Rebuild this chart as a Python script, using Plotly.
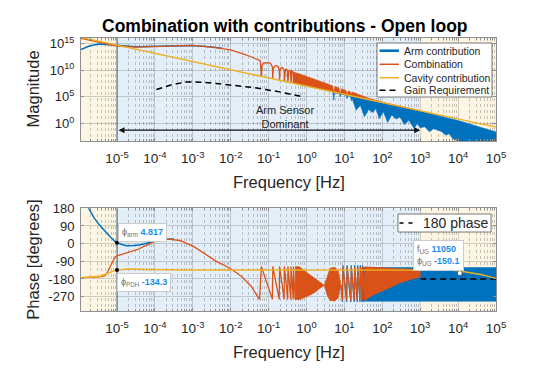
import plotly.graph_objects as go

# ---------------- data ----------------
# all frequencies / magnitudes kept as log10 values (decades)

# magnitude panel
cav_logf = [-6, -5, -4, -3, -2, -1, 0, 1, 2, 3, 4, 5]
cav_logmag = [16.25, 14.71, 13.17, 11.63, 10.09, 8.55, 7.01, 5.47, 3.93, 2.39, 0.85, -0.69]

arm_logf = [-5.95, -5.75, -5.49, -5.2, -5.0, -4.5, -4.0, -3.5, -3.0, -2.5, -2.2]
arm_logmag = [13.9, 14.5, 14.9, 14.85, 14.7, 14.4, 14.45, 14.6, 14.65, 14.35, 14.1]

# high frequency part of the arm contribution (dense band: upper edge then lower edge back)
arm_band_logf = [0.65, 1.0, 2.0, 3.0, 4.0, 4.5, 5.0,
                 5.0, 4.3, 4.0, 3.85, 3.77, 3.68, 3.56, 3.45, 3.35, 3.24, 3.12, 3.0, 2.92, 2.84,
                 2.7, 2.58, 2.47, 2.36, 2.25, 2.14, 2.03, 1.92, 1.83, 1.75, 1.64, 1.53, 1.42, 1.31,
                 1.2, 1.18, 1.16, 1.09, 1.07, 1.05, 0.91, 0.89, 0.87, 0.74, 0.72, 0.70, 0.65]
arm_band_logmag = [6.0, 5.4, 3.85, 2.3, 0.55, -0.5, -1.6,
                   -4.5, -4.5, -3.3, -2.81, -1.9, -2.2, -1.5, -1.26, -1.0, -1.58, -0.6, -0.83, 0.0, -0.94,
                   0.6, -0.19, 1.2, 0.81, 1.6, 0.19, 2.2, 0.94, 2.8, 2.06, 2.6, 1.24, 3.4, 2.5,
                   4.8, 4.2, 5.1, 5.2, 4.6, 5.3, 5.5, 5.0, 5.6, 5.8, 4.4, 5.9, 6.0]

comb_logf = [-5.95, -5.7, -5.5, -5.2, -5.0, -4.5, -4.0, -3.5, -3.0, -2.5, -2.0, -1.6, -1.3, -1.22, -1.19,
             -1.175, -1.13, -1.04, -0.95, -0.90, -0.89,
             -0.88, -0.845, -0.80, -0.75, -0.72, -0.71,
             -0.70, -0.675, -0.645, -0.61, -0.59, -0.585,
             -0.575, -0.555, -0.535, -0.505, -0.49,
             -0.48, -0.465, -0.445, -0.42, -0.41,
             -0.40, -0.385, -0.37, -0.35, -0.345]
comb_logmag = [16.0, 15.6, 15.3, 14.75, 14.55, 14.35, 14.45, 14.6, 14.65, 14.35, 13.8, 12.9, 11.95, 11.8, 8.84,
               10.9, 11.35, 11.44, 11.3, 10.6, 8.38,
               10.2, 10.75, 10.86, 10.7, 10.1, 8.10,
               9.9, 10.4, 10.49, 10.3, 9.9, 7.91,
               9.7, 10.15, 10.23, 10.0, 7.76,
               9.6, 9.95, 10.0, 9.8, 7.64,
               9.5, 9.8, 9.8, 9.6, 7.54]

# dense comb region of the combination (upper envelope, then back along the cavity line)
comb_band_logf = [-0.345, -0.33, -0.2, -0.1, 0.2, 0.5, 0.69, 0.72, 0.75, 0.86, 0.89, 0.92, 1.04, 1.07,
                  1.10, 1.16, 1.18, 1.20, 1.66, 2.1, 2.53, 3.0,
                  3.0, 2.0, 1.0, 0.0, -0.345]
comb_band_logmag = [7.54, 9.6, 9.35, 9.1, 8.4, 7.6, 7.1, 5.9, 7.0, 6.6, 5.63, 6.5, 6.2, 5.36,
                    6.1, 5.95, 5.19, 5.9, 4.7, 3.8, 3.1, 2.45,
                    2.39, 3.93, 5.47, 7.01, 7.54]

gain_logf = [-3.96, -3.6, -3.17, -2.8, -2.38, -1.9, -1.41, -0.71, -0.1]
gain_logmag = [6.38, 7.19, 7.8, 7.75, 7.5, 7.15, 6.75, 5.93, 5.03]

# phase panel (degrees)
arm_ph_logf = [-5.85, -5.76, -5.6, -5.45, -5.3, -5.18, -5.05, -5.0, -4.85, -4.74, -4.55, -4.39, -4.13, -3.96, -3.7, -3.5]
arm_ph = [215, 182, 130, 92, 58, 35, 10, 4.8, -6, -11, -10, -6, 6, 16, 22, 24]

arm_ph_teeth_logf = [0.91, 0.95, 0.96, 1.06, 1.07, 1.17, 1.18, 1.26, 1.27, 1.34, 1.35, 1.41, 1.42, 1.47, 1.48]
arm_ph_teeth = [-212, -297, -110, -297, -110, -297, -110, -297, -110, -297, -110, -297, -110, -297, -110]

arm_ph_band_logf = [1.45, 5.0, 5.0, 1.45]
arm_ph_band = [-122, -122, -293, -293]

comb_ph_logf = [-5.95, -5.6, -5.45, -5.32, -5.25, -5.18, -5.1, -5.05, -5.0, -4.74, -4.47, -4.2, -3.96, -3.65,
                -3.34, -2.98, -2.63, -2.38, -2.03, -1.72, -1.46, -1.24, -1.19, -0.90, -0.89, -0.72, -0.71,
                -0.59, -0.585, -0.495, -0.49, -0.415, -0.41, -0.35, -0.345, -0.30]
comb_ph = [-173, -171, -169, -163, -145, -116, -82, -68, -62, -48, -31, -6, 16, 23,
           16, -14, -56, -90, -124, -166, -217, -284, -116, -284, -116, -284, -116,
           -284, -116, -284, -116, -284, -116, -284, -116, -284]

lens1_logf = [-0.30, -0.18, -0.1, 0.03, 0.21, 0.35, 0.47, 0.35, 0.21, 0.03, -0.1, -0.18, -0.30]
lens1_ph = [-116, -118, -132, -152, -175, -195, -212, -228, -250, -268, -276, -284, -284]
lens2_logf = [0.47, 0.55, 0.62, 0.75, 0.84, 0.91, 0.84, 0.75, 0.62, 0.55, 0.47]
lens2_ph = [-212, -160, -125, -120, -140, -212, -275, -292, -290, -265, -212]

comb_ph_teeth_logf = [0.91, 0.95, 0.96, 1.06, 1.07, 1.17, 1.18, 1.26, 1.27, 1.34, 1.35, 1.41, 1.42,
                      1.47, 1.48, 1.53, 1.54, 1.58]
comb_ph_teeth = [-212, -290, -118, -290, -118, -290, -118, -290, -118, -290, -118, -290, -118,
                 -290, -118, -288, -118, -285]

comb_ph_band_logf = [1.55, 2.0, 2.5, 3.0, 3.0, 2.89, 2.7, 2.45, 2.2, 2.0, 1.8, 1.6, 1.55]
comb_ph_band = [-118, -124, -128, -130, -170, -175, -185, -200, -225, -242, -258, -280, -285]

cav_ph_logf = [-5.97, -5.45, -5.18, -5.05, -4.74, -4.2, -3.0, 0.0, 3.0, 3.5, 3.8, 4.04, 4.3, 4.6, 4.8, 5.0]
cav_ph = [-174, -166, -146, -136, -129, -132, -134, -134, -133, -133, -135, -139, -146, -157, -167, -178]

ref_ph_f = [1e3, 1e5]
ref_ph = [-180, -180]

tip_f = [1e-5, 1e-5, 11050]
tip_ph = [4.817, -134.3, -150.1]

x_ticks = [1e-5, 1e-4, 1e-3, 1e-2, 1e-1, 1, 10, 1e2, 1e3, 1e4, 1e5]
x_ticktext = ['10<sup>-5</sup>', '10<sup>-4</sup>', '10<sup>-3</sup>', '10<sup>-2</sup>', '10<sup>-1</sup>',
              '10<sup>0</sup>', '10<sup>1</sup>', '10<sup>2</sup>', '10<sup>3</sup>', '10<sup>4</sup>', '10<sup>5</sup>']
mag_ticks = [1, 1e5, 1e10, 1e15]
mag_ticktext = ['10<sup>0</sup>', '10<sup>5</sup>', '10<sup>10</sup>', '10<sup>15</sup>']
ph_ticks = [-270, -180, -90, 0, 90, 180]
ph_ticktext = ['-270', '-180', '-90', '0', '90', '180']

# ---------------- styling ----------------
BLUE = '#0072BD'
ORANGE = '#D95319'
YELLOW = '#EDB120'
BEIGE = '#FDF5E3'
LIGHTBLUE = '#E3EEF8'
FONT = 'Liberation Sans, Arial, sans-serif'

W, H = 559, 382
L, R, T, B = 81, 63, 38, 71
XMIN, XMAX = -5.95, 5.0


def p10(v):
    return [10 ** a for a in v]


def px(xp):
    return (xp - L) / (W - L - R)


def py(yp):
    return (H - B - yp) / (H - T - B)


def xfrac(lf):
    return (lf - XMIN) / (XMAX - XMIN)


fig = go.Figure()


def add_line(x, y, color, width, xa, ya, dash=None, name=None):
    fig.add_trace(go.Scatter(x=x, y=y, mode='lines', name=name, showlegend=False,
                             line=dict(color=color, width=width, dash=dash),
                             xaxis=xa, yaxis=ya, hoverinfo='skip'))


def add_fill(x, y, color, xa, ya, name=None):
    fig.add_trace(go.Scatter(x=x, y=y, mode='lines', name=name, showlegend=False, fill='toself',
                             fillcolor=color, line=dict(color=color, width=0.6),
                             xaxis=xa, yaxis=ya, hoverinfo='skip'))


# magnitude panel
add_line(p10(arm_logf), p10(arm_logmag), BLUE, 1.5, 'x', 'y', name='Arm contribution')
add_fill(p10(arm_band_logf), p10(arm_band_logmag), BLUE, 'x', 'y', name='Arm contribution')
add_line(p10(comb_logf), p10(comb_logmag), ORANGE, 1.3, 'x', 'y', name='Combination')
add_fill(p10(comb_band_logf), p10(comb_band_logmag), ORANGE, 'x', 'y', name='Combination')
add_line(p10(cav_logf), p10(cav_logmag), YELLOW, 1.4, 'x', 'y', name='Cavity contribution')
add_line(p10(gain_logf), p10(gain_logmag), 'black', 1.5, 'x', 'y', dash='6px,4px', name='Gain Requirement')

# phase panel
add_line(p10(arm_ph_logf), arm_ph, BLUE, 1.5, 'x2', 'y2', name='Arm contribution')
add_line(p10(arm_ph_teeth_logf), arm_ph_teeth, BLUE, 1.2, 'x2', 'y2')
add_fill(p10(arm_ph_band_logf), arm_ph_band, BLUE, 'x2', 'y2')
add_line(p10(comb_ph_logf), comb_ph, ORANGE, 1.3, 'x2', 'y2', name='Combination')
add_fill(p10(lens1_logf), lens1_ph, ORANGE, 'x2', 'y2')
add_fill(p10(lens2_logf), lens2_ph, ORANGE, 'x2', 'y2')
add_line(p10(comb_ph_teeth_logf), comb_ph_teeth, ORANGE, 1.2, 'x2', 'y2')
add_fill(p10(comb_ph_band_logf), comb_ph_band, ORANGE, 'x2', 'y2')
add_line(p10(cav_ph_logf), cav_ph, YELLOW, 1.4, 'x2', 'y2', name='Cavity contribution')
add_line(ref_ph_f, ref_ph, 'black', 1.5, 'x2', 'y2', dash='6px,4px', name='180 phase')

fig.add_trace(go.Scatter(x=tip_f[:2], y=tip_ph[:2], mode='markers', showlegend=False, hoverinfo='skip',
                         marker=dict(color='black', size=4), xaxis='x2', yaxis='y2'))
fig.add_trace(go.Scatter(x=tip_f[2:], y=tip_ph[2:], mode='markers', showlegend=False, hoverinfo='skip',
                         marker=dict(color='white', size=5, line=dict(color='#555555', width=1)),
                         xaxis='x2', yaxis='y2'))

# ---------------- background regions ----------------
shapes = []
for xr, yr in (('x domain', 'y domain'), ('x2 domain', 'y2 domain')):
    a, b = xfrac(-5), xfrac(3)
    shapes.append(dict(type='rect', xref=xr, yref=yr, x0=0, x1=a, y0=0, y1=1, fillcolor=BEIGE,
                       line=dict(width=0), layer='below'))
    shapes.append(dict(type='rect', xref=xr, yref=yr, x0=a, x1=b, y0=0, y1=1, fillcolor=LIGHTBLUE,
                       line=dict(width=0), layer='below'))
    shapes.append(dict(type='rect', xref=xr, yref=yr, x0=b, x1=1, y0=0, y1=1, fillcolor=BEIGE,
                       line=dict(width=0), layer='below'))
    shapes.append(dict(type='line', xref=xr, yref=yr, x0=a, x1=a, y0=0, y1=1,
                       line=dict(color='#9fadb8', width=2), layer='below'))

# custom legends
shapes.append(dict(type='rect', xref='paper', yref='paper', x0=px(377), x1=px(492), y0=py(97), y1=py(43),
                   fillcolor='white', line=dict(color='#555555', width=0.8), layer='above'))
legend_items = [('Arm contribution', BLUE, 2.6, 'solid'), ('Combination', ORANGE, 1.5, 'solid'),
                ('Cavity contribution', YELLOW, 1.5, 'solid'), ('Gain Requirement', 'black', 1.5, '6px,4px')]
legend_rows = [50.7, 64.3, 77.7, 90.3]
annotations = []
for (lab, col, wid, dsh), yy in zip(legend_items, legend_rows):
    shapes.append(dict(type='line', xref='paper', yref='paper', x0=px(379.5), x1=px(399), y0=py(yy), y1=py(yy),
                       line=dict(color=col, width=wid, dash=dsh), layer='above'))
    annotations.append(dict(text=lab, xref='paper', yref='paper', x=px(401.5), y=py(yy), xanchor='left',
                            yanchor='middle', showarrow=False, font=dict(size=10.5, color='#262626')))

shapes.append(dict(type='rect', xref='paper', yref='paper', x0=px(398), x1=px(491), y0=py(232), y1=py(214),
                   fillcolor='white', line=dict(color='#555555', width=0.8), layer='above'))
shapes.append(dict(type='line', xref='paper', yref='paper', x0=px(399.5), x1=px(413.5), y0=py(223), y1=py(223),
                   line=dict(color='black', width=1.5, dash='4px,5px'), layer='above'))
annotations.append(dict(text='180 phase', xref='paper', yref='paper', x=px(421), y=py(223), xanchor='left',
                        yanchor='middle', showarrow=False, font=dict(size=14, color='#262626')))

# titles
annotations.append(dict(text='<b>Combination with contributions - Open loop</b>', xref='paper', yref='paper',
                        x=px(285), y=py(26), xanchor='center', yanchor='middle', showarrow=False,
                        font=dict(size=17.5, color='black')))
for txt, xx, yy, ang in (('Magnitude', 33, 89.4, -90), ('Phase [degrees]', 33, 259.7, -90),
                         ('Frequency [Hz]', 288.5, 182, 0), ('Frequency [Hz]', 288.5, 352, 0)):
    annotations.append(dict(text=txt, xref='paper', yref='paper', x=px(xx), y=py(yy), xanchor='center',
                            yanchor='middle', textangle=ang, showarrow=False,
                            font=dict(size=16.5, color='#262626')))

# arrow + text in magnitude panel
annotations.append(dict(text='', x=3, y=-1.26, ax=-5, ay=-1.26, xref='x', yref='y', axref='x', ayref='y',
                        showarrow=True, arrowhead=2, arrowside='end+start', arrowsize=1, arrowwidth=1.2,
                        arrowcolor='#111111', standoff=0, startstandoff=0))
annotations.append(dict(text='Arm Sensor<br>Dominant', x=-0.58, y=1.18, xref='x', yref='y', showarrow=False,
                        font=dict(size=11, color='#262626'), xanchor='center', yanchor='middle'))

# data tips
GREY = "<span style='color:#707070'>"
VAL = "<span style='color:#1a8cf0'><b>"
tips = [
    (-4.966, 107, GREY + 'ϕ<sub>arm</sub></span> ' + VAL + '4.817</b></span>'),
    (-5.0, -152, GREY + 'ϕ<sub>PDH</sub></span> ' + VAL + '-134.3</b></span>'),
    (2.8, 19.5, GREY + 'f<sub>UG</sub></span> ' + VAL + '11050</b></span><br>'
     + GREY + 'ϕ<sub>UG</sub></span> ' + VAL + '-150.1</b></span>'),
]
for xx, yy, txt in tips:
    annotations.append(dict(text=txt, x=xx, y=yy, xref='x2', yref='y2', xanchor='left', yanchor='top',
                            showarrow=False, align='left', bgcolor='white', bordercolor='#cccccc',
                            borderwidth=1, borderpad=3, font=dict(size=9, color='#333333')))

# ---------------- axes ----------------
GRID = 'rgba(60,60,60,0.22)'
MINOR_GRID = 'rgba(60,60,60,0.28)'
x_minor = [k * 10.0 ** n for n in range(-6, 5) for k in range(2, 10)]
axis_common = dict(showline=True, linecolor='#8f8f8f', linewidth=1, mirror='ticks', ticks='inside',
                   ticklen=3, tickcolor='#8f8f8f', showgrid=True, gridcolor=GRID, gridwidth=1,
                   zeroline=False, tickfont=dict(size=13, color='#262626', family=FONT))
x_common = dict(axis_common, type='log', range=[XMIN, XMAX], tickmode='array', tickvals=x_ticks,
                ticktext=x_ticktext, ticklabelstandoff=5, tickfont=dict(size=13.5, color='#262626', family=FONT),
                minor=dict(tickmode='array', tickvals=x_minor, ticks='inside', ticklen=2,
                           tickcolor='#8f8f8f', showgrid=True, gridcolor=MINOR_GRID, griddash='dot'))

fig.update_layout(
    width=W, height=H,
    margin=dict(l=L, r=R, t=T, b=B),
    paper_bgcolor='white', plot_bgcolor='white',
    font=dict(family=FONT, color='#262626'),
    showlegend=False,
    hovermode=False,
    xaxis=dict(x_common, domain=[0, 1], anchor='y'),
    yaxis=dict(axis_common, type='log', range=[-3.3, 16.05], domain=[py(141), 1], anchor='x',
               tickmode='array', tickvals=mag_ticks, ticktext=mag_ticktext, ticklabelstandoff=3),
    xaxis2=dict(x_common, domain=[0, 1], anchor='y2'),
    yaxis2=dict(axis_common, range=[-343, 180], domain=[0, py(208.3)], anchor='x2',
                tickmode='array', tickvals=ph_ticks, ticktext=ph_ticktext, ticklabelstandoff=3),
    shapes=shapes,
    annotations=annotations,
)

# the page's default body margin would shift the figure by 8px
fig.write_html('out.html', config={'displayModeBar': False},
               post_script="document.body.style.margin='0';")
